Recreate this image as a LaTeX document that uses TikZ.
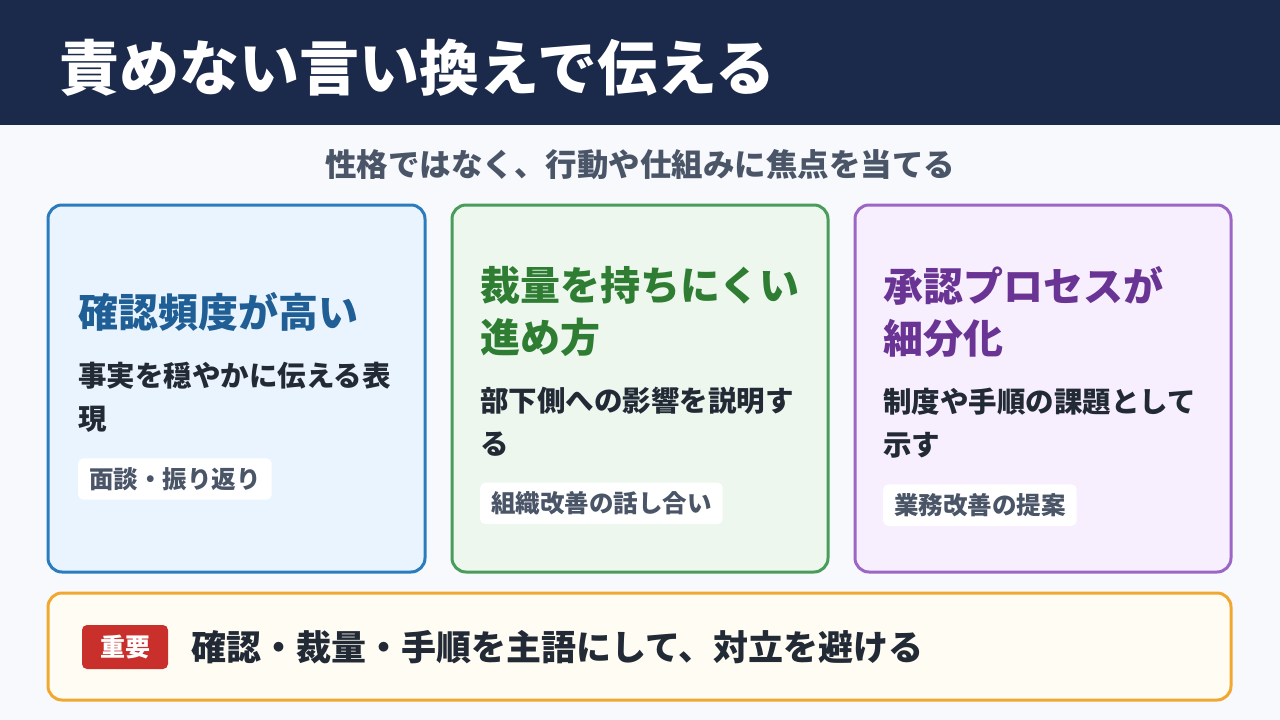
\documentclass[tikz,border=0pt]{standalone}
\usepackage{fontspec}
\setmainfont{Noto Sans CJK JP}
\usetikzlibrary{positioning}
\definecolor{navy}{HTML}{1B2A4A}
\definecolor{pagebg}{HTML}{F7F9FC}
\definecolor{subgray}{HTML}{4A5568}
\definecolor{bodytxt}{HTML}{222A36}
\definecolor{bluedraw}{HTML}{2B7BBF}\definecolor{bluefill}{HTML}{EAF4FE}\definecolor{bluetxt}{HTML}{1F5F96}
\definecolor{greendraw}{HTML}{4A9C5A}\definecolor{greenfill}{HTML}{EDF7EE}\definecolor{greentxt}{HTML}{2E7D32}
\definecolor{purpdraw}{HTML}{9B66C6}\definecolor{purpfill}{HTML}{F7EFFD}\definecolor{purptxt}{HTML}{6A3494}
\definecolor{orangedraw}{HTML}{F0A830}\definecolor{orangefill}{HTML}{FFFCF3}
\definecolor{badgered}{HTML}{C9302C}
\tikzset{
  card/.style={rounded corners=14pt,line width=3pt},
  head text/.style={anchor=north west,align=left,font=\bfseries\fontsize{40}{52}\selectfont,inner sep=0pt},
  body text/.style={anchor=north west,align=left,font=\bfseries\fontsize{28.5}{43}\selectfont,text=bodytxt,inner sep=0pt},
  tag/.style={anchor=north west,fill=white,rounded corners=5pt,inner xsep=11pt,inner ysep=9pt,font=\bfseries\fontsize{24.5}{27}\selectfont,text=subgray}
}
\begin{document}
\begin{tikzpicture}[x=1pt,y=-1pt]
  \useasboundingbox (0,0) rectangle (1280,720);
  \fill[pagebg] (0,0) rectangle (1280,720);
  \fill[navy] (0,0) rectangle (1280,125);
  \node[anchor=west,text=white,font=\bfseries\fontsize{60}{64}\selectfont] (title) at (56,68) {責めない言い換えで伝える};
  \node[text=subgray,font=\bfseries\fontsize{31.5}{34}\selectfont] (sub) at (640,165) {性格ではなく、行動や仕組みに焦点を当てる};
  % cards
  \draw[card,draw=bluedraw,fill=bluefill] (48,205) rectangle (425,572);
  \draw[card,draw=greendraw,fill=greenfill] (452,205) rectangle (828,572);
  \draw[card,draw=purpdraw,fill=purpfill] (855,205) rectangle (1231,572);
  \node[head text,text=bluetxt] (h1) at (78,292) {確認頻度が高い};
  \node[body text,below=30pt of h1.south west,anchor=north west] (b1) {事実を穏やかに伝える表\\現};
  \node[tag,below=26pt of b1.south west,anchor=north west] (t1) {面談・振り返り};
  \node[head text,text=greentxt] (h2) at (480,266) {裁量を持ちにくい\\進め方};
  \node[body text,below=30pt of h2.south west,anchor=north west] (b2) {部下側への影響を説明す\\る};
  \node[tag,below=26pt of b2.south west,anchor=north west] (t2) {組織改善の話し合い};
  \node[head text,text=purptxt] (h3) at (883,266) {承認プロセスが\\細分化};
  \node[body text,below=30pt of h3.south west,anchor=north west] (b3) {制度や手順の課題として\\示す};
  \node[tag,below=26pt of b3.south west,anchor=north west] (t3) {業務改善の提案};
  % bottom note
  \draw[card,draw=orangedraw,fill=orangefill] (48,593) rectangle (1231,700);
  \node[fill=badgered,text=white,rounded corners=5pt,minimum width=86pt,minimum height=44pt,font=\bfseries\fontsize{25}{27}\selectfont] (badge) at (125,647) {重要};
  \node[right=20pt of badge,text=bodytxt,font=\bfseries\fontsize{35}{38}\selectfont] (note) {確認・裁量・手順を主語にして、対立を避ける};
\end{tikzpicture}
\end{document}
